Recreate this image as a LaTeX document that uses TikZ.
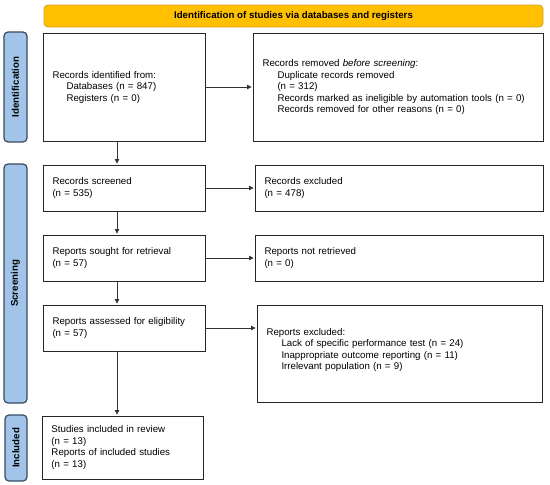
\documentclass[tikz,border=0pt]{standalone}
\usepackage{fontspec}
\setmainfont{Liberation Sans}
\usetikzlibrary{arrows.meta}
\definecolor{bannerfill}{HTML}{FFC000}
\definecolor{bannerdraw}{HTML}{D9A62A}
\definecolor{sidefill}{HTML}{A3C4E9}
\definecolor{sidedraw}{HTML}{3A4A5E}
\definecolor{boxdraw}{HTML}{262626}
\definecolor{arrowcol}{HTML}{333333}
\begin{document}
\begin{tikzpicture}[x=1pt,y=-1pt,
  font=\fontsize{9.7}{11.5}\selectfont,
  box/.style={draw=boxdraw, line width=0.9pt, fill=white, align=left,
    inner xsep=9.5pt, inner ysep=2pt, anchor=center},
  banner/.style={draw=bannerdraw, fill=bannerfill, line width=0.9pt,
    rounded corners=4pt, inner sep=0pt, font=\fontsize{9.7}{11.5}\selectfont\bfseries},
  side/.style={draw=sidedraw, fill=sidefill, line width=1.2pt, rounded corners=4pt,
    rotate=90, inner sep=0pt, font=\fontsize{9.7}{11.5}\selectfont\bfseries},
  arr/.style={draw=arrowcol, line width=0.8pt, shorten >=1pt,
    -{Triangle[length=4.5pt,width=4.5pt]}}
]
\useasboundingbox (0,0) rectangle (550,485);

% banner
\node[banner, minimum width=499pt, minimum height=22pt] (ban) at (293.5,16)
  {Identification of studies via databases and registers};

% side bars
\node[side, minimum width=110pt, minimum height=23pt] (sid) at (15.5,87) {Identification};
\node[side, minimum width=239pt, minimum height=23pt] (ssc) at (15.5,283.5) {Screening};
\node[side, minimum width=66pt, minimum height=22pt] (sin) at (16,448) {Included};

% boxes
\node[box, text width=143pt, minimum height=108pt] (b1) at (124,87)
  {Records identified from:\\
   \hspace*{14pt}Databases (n = 847)\\
   \hspace*{14pt}Registers (n = 0)};
\node[box, text width=271pt, minimum height=108pt] (b2) at (398,87)
  {Records removed \textit{before screening}:\\
   \hspace*{15pt}Duplicate records removed\\
   \hspace*{15pt}(n = 312)\\
   \hspace*{15pt}Records marked as ineligible by automation tools (n = 0)\\
   \hspace*{15pt}Records removed for other reasons (n = 0)};
\node[box, text width=143pt, minimum height=46pt] (b3) at (124,188)
  {Records screened\\(n = 535)};
\node[box, text width=269pt, minimum height=46pt] (b4) at (399,188)
  {Records excluded\\(n = 478)};
\node[box, text width=143pt, minimum height=46pt] (b5) at (124,258)
  {Reports sought for retrieval\\(n = 57)};
\node[box, text width=269pt, minimum height=46pt] (b6) at (399,258)
  {Reports not retrieved\\(n = 0)};
\node[box, text width=143pt, minimum height=46pt] (b7) at (124,328)
  {Reports assessed for eligibility\\(n = 57)};
\node[box, text width=266pt, minimum height=97pt] (b8) at (399.5,353.5)
  {Reports excluded:\\
   \hspace*{15pt}Lack of specific performance test (n = 24)\\
   \hspace*{15pt}Inappropriate outcome reporting (n = 11)\\
   \hspace*{15pt}Irrelevant population (n = 9)\\[-2.5pt]\mbox{}};
\node[box, text width=142pt, minimum height=63pt] (b9) at (122.5,447.5)
  {Studies included in review\\(n = 13)\\Reports of included studies\\(n = 13)};

% arrows
\coordinate (ax) at (117,0);
\draw[arr] (b1.east) -- (b1.east -| b2.west);
\draw[arr] (b3.east) -- (b3.east -| b4.west);
\draw[arr] (b5.east) -- (b5.east -| b6.west);
\draw[arr] (b7.east) -- (b7.east -| b8.west);
\draw[arr] (b1.south -| ax) -- (b3.north -| ax);
\draw[arr] (b3.south -| ax) -- (b5.north -| ax);
\draw[arr] (b5.south -| ax) -- (b7.north -| ax);
\draw[arr] (b7.south -| ax) -- (b9.north -| ax);
\end{tikzpicture}
\end{document}
